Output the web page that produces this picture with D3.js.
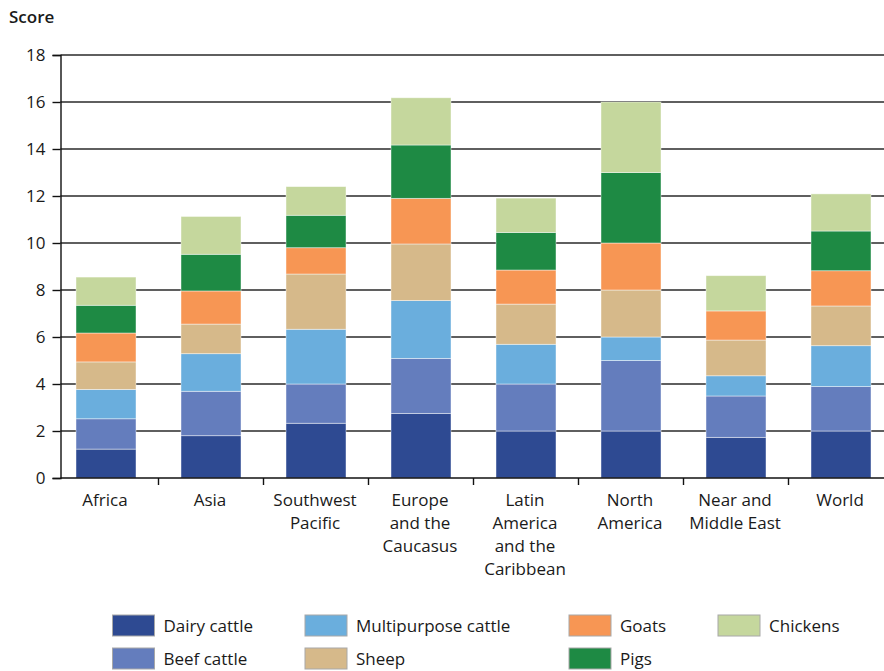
<!DOCTYPE html>
<html>
<head>
<meta charset="utf-8">
<script src="https://cdn.jsdelivr.net/npm/d3@7"></script>
<style>
  html, body { margin: 0; padding: 0; background: #fff; }
  svg { display: block; font-family: "Open Sans", "Noto Sans", sans-serif; }
</style>
</head>
<body>
<svg id="chart" width="884" height="671"></svg>
<script>
const categories = [
  ["Africa"],
  ["Asia"],
  ["Southwest", "Pacific"],
  ["Europe", "and the", "Caucasus"],
  ["Latin", "America", "and the", "Caribbean"],
  ["North", "America"],
  ["Near and", "Middle East"],
  ["World"]
];
const seriesNames = ["Dairy cattle", "Beef cattle", "Multipurpose cattle", "Sheep", "Goats", "Pigs", "Chickens"];
const dairyCattle        = [1.23, 1.80, 2.33, 2.75, 2.00, 2.00, 1.73, 2.00];
const beefCattle         = [1.29, 1.89, 1.67, 2.34, 2.00, 3.00, 1.76, 1.89];
const multipurposeCattle = [1.25, 1.60, 2.33, 2.46, 1.69, 1.00, 0.86, 1.74];
const sheep              = [1.17, 1.26, 2.35, 2.41, 1.71, 2.00, 1.52, 1.69];
const goats              = [1.23, 1.41, 1.12, 1.94, 1.45, 2.00, 1.24, 1.50];
const pigs               = [1.18, 1.56, 1.38, 2.27, 1.60, 3.00, 0.00, 1.69];
const chickens           = [1.20, 1.61, 1.22, 2.01, 1.46, 3.00, 1.50, 1.58];
const seriesColors = ["#2e4a92", "#647dbd", "#6aaedd", "#d6b98a", "#f79654", "#1e8a44", "#c5d79d"];
const yTicks = [0, 2, 4, 6, 8, 10, 12, 14, 16, 18];
const yLabel = "Score";

const seriesValues = [dairyCattle, beefCattle, multipurposeCattle, sheep, goats, pigs, chickens];
const keys = categories.map(c => c.join(" "));
const table = keys.map((k, i) => {
  const row = { cat: k };
  seriesNames.forEach((s, j) => row[s] = seriesValues[j][i]);
  return row;
});
const stacked = d3.stack().keys(seriesNames)(table);

const svg = d3.select("#chart");
const x = d3.scaleBand().domain(keys).range([53.5, 53.5 + 105 * 8]).padding(0);
const y = d3.scaleLinear().domain([0, 18]).range([478, 55]);
const barW = 60;
const barOff = (x.bandwidth() - barW) / 2;
const axisX = 60.5;

// gridlines
svg.append("g").selectAll("line").data(yTicks.filter(t => t > 0)).join("line")
  .attr("x1", axisX).attr("x2", 884)
  .attr("y1", d => y(d)).attr("y2", d => y(d))
  .attr("stroke", "#2a2a2a").attr("stroke-width", 1.4);

// bars
svg.append("g").selectAll("g").data(stacked).join("g")
  .attr("fill", (d, i) => seriesColors[i])
  .selectAll("rect").data(d => d.filter(p => p[1] - p[0] > 0)).join("rect")
  .attr("x", d => x(d.data.cat) + barOff)
  .attr("width", barW)
  .attr("y", d => y(d[1]))
  .attr("height", d => y(d[0]) - y(d[1]))
  .attr("stroke", "rgba(255,255,255,0.55)")
  .attr("stroke-width", 0.8);

// y axis
const yAxis = d3.axisLeft(y).tickValues(yTicks).tickSize(8).tickPadding(7).tickFormat(d3.format("d"));
const gy = svg.append("g").attr("transform", `translate(${axisX},0)`).call(yAxis);
gy.select(".domain").attr("stroke", "#111").attr("stroke-width", 1.4);
gy.selectAll(".tick line").attr("stroke", "#111").attr("stroke-width", 1.4);
gy.selectAll(".tick text").attr("font-size", 17).attr("fill", "#1a1a1a")
  .attr("font-family", "'Open Sans', 'Noto Sans', sans-serif");

// x baseline
svg.append("line").attr("x1", axisX).attr("x2", 884).attr("y1", y(0)).attr("y2", y(0))
  .attr("stroke", "#111").attr("stroke-width", 1.4);
// x ticks at band boundaries
svg.append("g").selectAll("line").data(keys.slice(1)).join("line")
  .attr("x1", d => x(d)).attr("x2", d => x(d))
  .attr("y1", y(0)).attr("y2", y(0) + 7)
  .attr("stroke", "#111").attr("stroke-width", 1.4);

// x labels
const xl = svg.append("g").selectAll("text").data(categories).join("text")
  .attr("text-anchor", "middle")
  .attr("font-size", 17)
  .attr("fill", "#1a1a1a")
  .attr("transform", (d, i) => `translate(${x(keys[i]) + barOff + barW / 2 - 1},0)`);
xl.selectAll("tspan").data(d => d).join("tspan")
  .attr("x", 0)
  .attr("y", (d, i) => 506 + i * 23)
  .text(d => d);

// y label
svg.append("text").attr("x", 9).attr("y", 23).attr("font-size", 17).attr("font-weight", 600)
  .attr("fill", "#1a1a1a").text(yLabel);

// legend
const legendPos = [
  { sx: 112.5, row: 0 }, { sx: 112.5, row: 1 },
  { sx: 305, row: 0 }, { sx: 305, row: 1 },
  { sx: 569, row: 0 }, { sx: 569, row: 1 },
  { sx: 718, row: 0 }
];
const lg = svg.append("g").selectAll("g").data(seriesNames).join("g")
  .attr("transform", (d, i) => `translate(${legendPos[i].sx},${615 + legendPos[i].row * 33})`);
lg.append("rect").attr("width", 42).attr("height", 21)
  .attr("fill", (d, i) => seriesColors[i]).attr("stroke", "#a8a8a8").attr("stroke-width", 1);
lg.append("text").attr("x", 51).attr("y", 16.5).attr("font-size", 17).attr("fill", "#1a1a1a").text(d => d);
</script>
</body>
</html>
